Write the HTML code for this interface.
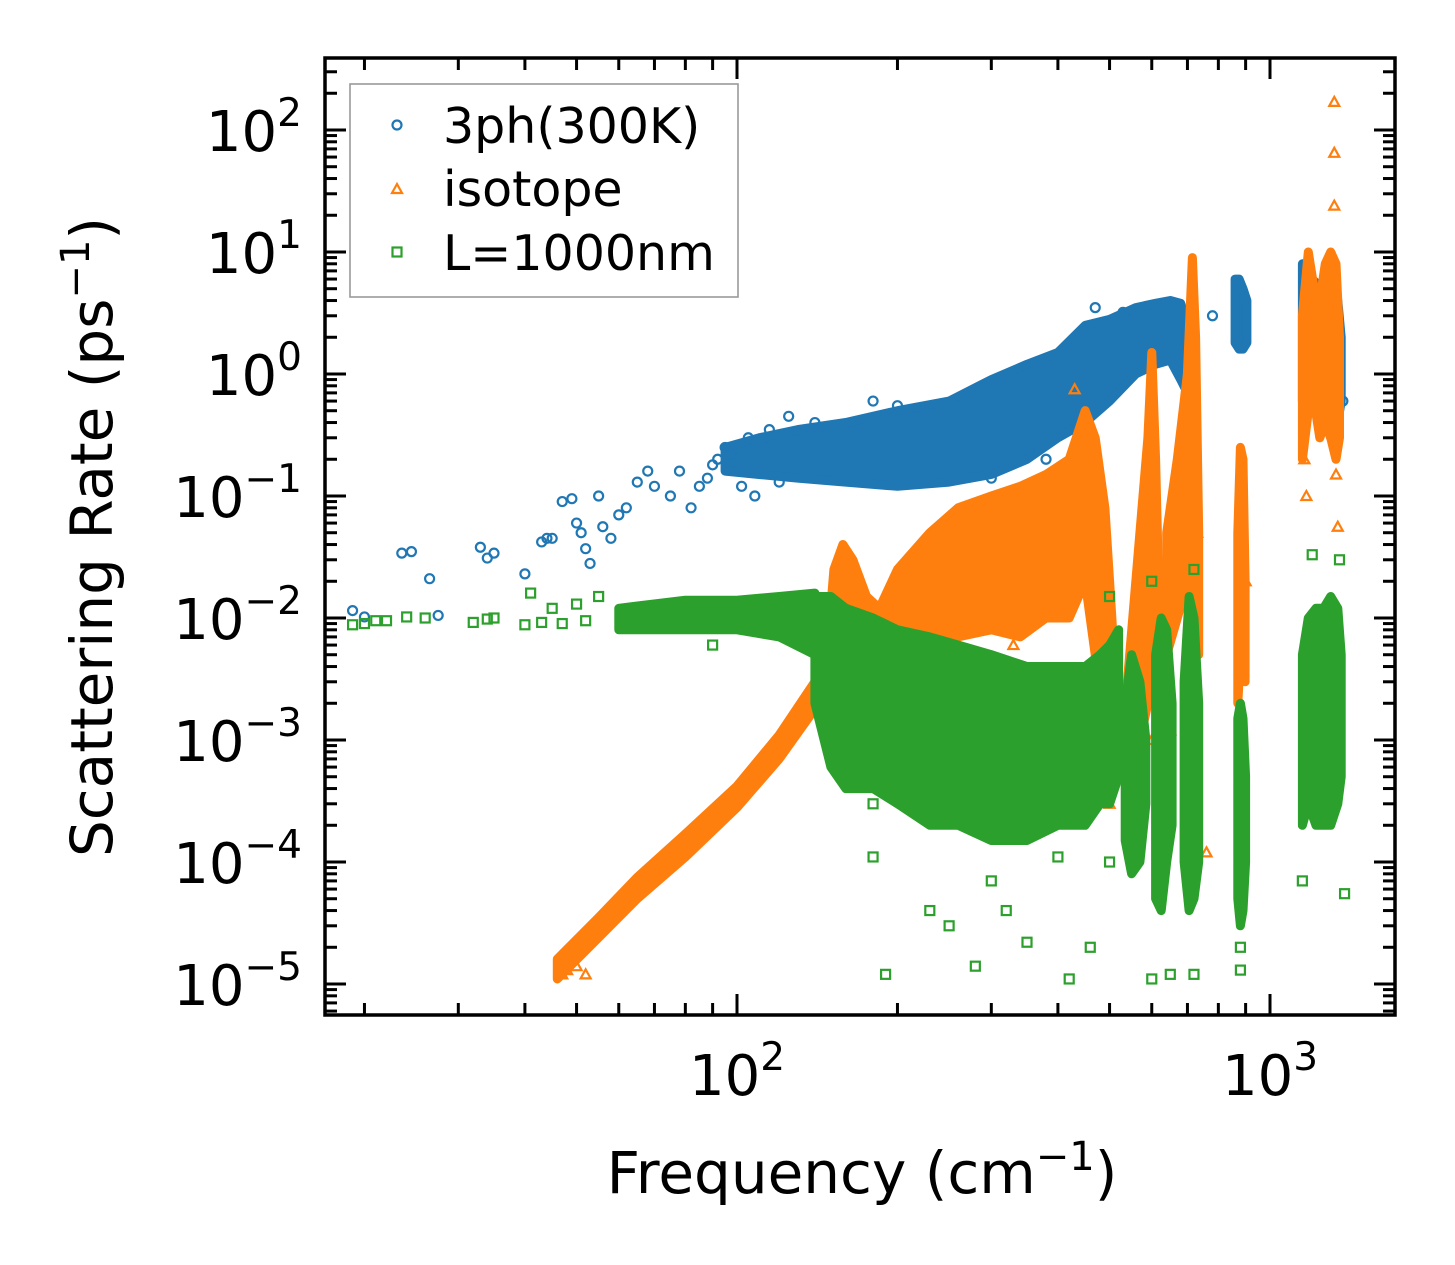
<!DOCTYPE html>
<html><head><meta charset="utf-8">
<style>
html,body{margin:0;padding:0;background:#fff;}
svg{display:block;font-family:"DejaVu Sans","Liberation Sans",sans-serif;}
</style></head>
<body>
<svg id="chart" width="1455" height="1265" viewBox="0 0 1455 1265" xmlns="http://www.w3.org/2000/svg">
<rect width="1455" height="1265" fill="#fff"/>
<g id="marks"></g>
<g id="axes"></g>
<text x="862" y="1193" font-size="58" text-anchor="middle">Frequency (cm<tspan dy="-23" font-size="40">−1</tspan><tspan dy="23">)</tspan></text>
<text transform="translate(112,537) rotate(-90)" font-size="58" text-anchor="middle">Scattering Rate (ps<tspan dy="-23" font-size="40">−1</tspan><tspan dy="23">)</tspan></text>
<g>
<rect x="350" y="84" width="388" height="213" fill="#fff" fill-opacity="0.8" stroke="#999" stroke-width="1.6"/>
<circle cx="397" cy="125" r="4.5" fill="none" stroke="#1f77b4" stroke-width="2.2"/>
<text x="443" y="143" font-size="49">3ph(300K)</text>
<path d="M397,184 L402,193 L392,193 Z" fill="none" stroke="#ff7f0e" stroke-width="2.2"/>
<text x="443" y="206" font-size="49">isotope</text>
<rect x="392.5" y="247.5" width="9" height="9" fill="none" stroke="#2ca02c" stroke-width="2.2"/>
<text x="443" y="270" font-size="49">L=1000nm</text>
</g>
</svg>
<script>
// ---- axis ranges ----
const xDomainLog = [1.227, 3.2345];
const yDomainLog = [-5.254, 2.59];
const xTickLabels = ["2","3"];
const xTickValues = [100, 1000];
const yTickValues = [1e-5,1e-4,1e-3,1e-2,1e-1,1,10,100];
const yTickExps = ["−5","−4","−3","−2","−1","0","1","2"];

// ---- 3ph (blue) dense band ----
const blueBand1F = [95,110,130,160,200,250,300,350,400,450,500,560,610,650,680,700];
const blueBand1Lo = [0.16,0.15,0.14,0.13,0.12,0.13,0.15,0.2,0.3,0.4,0.6,1.0,1.2,1.3,0.9,0.7];
const blueBand1Hi = [0.25,0.3,0.35,0.4,0.5,0.6,0.9,1.2,1.5,2.5,2.8,3.5,3.8,4.0,3.8,2.5];
const blueBand2F = [860,875,890,905];
const blueBand2Lo = [1.8,1.6,1.6,1.8];
const blueBand2Hi = [6,6,5,4];
const blueBand3F = [1150,1200,1250,1300,1340,1360];
const blueBand3Lo = [0.6,0.8,0.5,0.3,0.4,0.6];
const blueBand3Hi = [8,6,5,7,4,2];
const blueF = [19,20,23.5,24.5,26.5,27.5,33,34,35,40,43,44,45,47,49,50,51,52,53,55,56,58,60,62,65,68,70,75,78,82,88,95,105,115,125,140,180,200,300,380,470,530,780,1370,430,85,90,92,98,102,108,112,120];
const blueR = [0.0115,0.0102,0.034,0.035,0.021,0.0105,0.038,0.031,0.034,0.023,0.042,0.045,0.045,0.09,0.095,0.06,0.05,0.037,0.028,0.1,0.056,0.045,0.07,0.08,0.13,0.16,0.12,0.1,0.16,0.08,0.14,0.25,0.3,0.35,0.45,0.4,0.6,0.55,0.14,0.2,3.5,3.2,3.0,0.6,0.7,0.12,0.18,0.2,0.22,0.12,0.1,0.25,0.13];

// ---- isotope (orange) ----
const orBand1F = [46,55,65,80,100,120,140,148,152,158,165,175,185,200,230,260,300,340,380,420,450,470,490,500,510];
const orBand1Lo = [1.1e-5,2.4e-5,5e-5,1.1e-4,2.8e-4,7e-4,1.8e-3,4e-3,0.01,0.012,0.01,0.009,0.008,0.007,0.006,0.007,0.008,0.007,0.01,0.01,0.02,0.005,0.002,0.001,0.001];
const orBand1Hi = [1.6e-5,3.5e-5,7.5e-5,1.7e-4,4.2e-4,1.1e-3,3e-3,0.006,0.025,0.04,0.03,0.015,0.012,0.025,0.05,0.08,0.1,0.12,0.15,0.2,0.5,0.3,0.08,0.02,0.005];
const orBand2F = [540,570,590,600,610,620];
const orBand2Lo = [1e-3,1e-3,2e-3,3e-3,3e-3,2e-3];
const orBand2Hi = [0.003,0.05,0.3,1.5,0.2,0.01];
const orBand3F = [640,670,700,715,725,735];
const orBand3Lo = [0.005,0.01,0.02,0.02,0.01,0.005];
const orBand3Hi = [0.05,0.2,1,9,2,0.05];
const orBand4F = [870,880,890,898];
const orBand4Lo = [0.002,0.005,0.005,0.003];
const orBand4Hi = [0.05,0.25,0.2,0.02];
const orBand5F = [1150,1180,1210,1240,1270,1300,1330,1350];
const orBand5Lo = [0.2,0.5,0.6,0.3,0.4,0.3,0.2,0.3];
const orBand5Hi = [3,10,5,4,8,10,8,2];
const orF = [1320,1320,1320,1340,1330,1160,1170,880,890,760,650,500,430,720,730,600,320,330,900,47,48,50,52];
const orR = [170,65,24,0.056,0.15,0.2,0.1,0.0005,0.0002,1.2e-4,1.2e-3,3e-4,0.75,0.1,0.05,0.001,0.008,0.006,0.02,1.2e-5,1.3e-5,1.4e-5,1.2e-5];

// ---- boundary L=1000nm (green) ----
const grBand0F = [60,80,100,120,140];
const grBand0Lo = [0.008,0.008,0.008,0.007,0.005];
const grBand0Hi = [0.012,0.014,0.014,0.015,0.016];
const grBand1F = [140,150,160,180,200,230,260,300,350,400,450,480,500,520];
const grBand1Lo = [2e-3,6e-4,4e-4,4e-4,3e-4,2e-4,2e-4,1.5e-4,1.5e-4,2e-4,2e-4,3e-4,3e-4,5e-4];
const grBand1Hi = [0.015,0.015,0.012,0.01,0.008,0.007,0.006,0.005,0.004,0.004,0.004,0.005,0.006,0.008];
const grBand2F = [535,550,570,585];
const grBand2Lo = [1.5e-4,8e-5,1e-4,3e-4];
const grBand2Hi = [2e-3,5e-3,3e-3,1e-3];
const grBand3F = [610,625,640,655];
const grBand3Lo = [5e-5,4e-5,1e-4,2e-4];
const grBand3Hi = [0.005,0.01,0.008,0.002];
const grBand4F = [690,705,720,735];
const grBand4Lo = [1e-4,4e-5,5e-5,1e-4];
const grBand4Hi = [0.003,0.015,0.01,0.002];
const grBand5F = [870,880,890,900];
const grBand5Lo = [5e-5,3e-5,4e-5,1e-4];
const grBand5Hi = [1.5e-3,2e-3,1.5e-3,5e-4];
const grBand6F = [1150,1180,1220,1260,1300,1340,1360];
const grBand6Lo = [2e-4,3e-4,2e-4,2e-4,2e-4,3e-4,5e-4];
const grBand6Hi = [0.005,0.01,0.012,0.012,0.015,0.012,0.005];
const grF = [19,20,21,22,24,26,32,34,35,40,41,43,45,47,50,52,55,90,180,190,230,250,280,300,320,350,400,420,460,400,500,560,600,650,720,880,880,1150,1380,1200,1350,230,260,180,200,500,600,720];
const grR = [0.0088,0.009,0.0095,0.0095,0.0102,0.01,0.0092,0.0098,0.01,0.0088,0.016,0.0092,0.012,0.009,0.013,0.0095,0.015,0.006,1.1e-4,1.2e-5,4e-5,3e-5,1.4e-5,7e-5,4e-5,2.2e-5,1.1e-4,1.1e-5,2e-5,3e-4,1e-4,5e-4,1.1e-5,1.2e-5,1.2e-5,1.3e-5,2e-5,7e-5,5.5e-5,0.033,0.03,1e-3,8e-4,3e-4,5e-4,0.015,0.02,0.025];

// ---- scales ----
const PX0 = 325, PX1 = 1395, PY0 = 1015, PY1 = 58;
function xs(f){ return PX0 + (Math.log10(f) - xDomainLog[0]) / (xDomainLog[1]-xDomainLog[0]) * (PX1-PX0); }
function ys(r){ return PY0 - (Math.log10(r) - yDomainLog[0]) / (yDomainLog[1]-yDomainLog[0]) * (PY0-PY1); }

const NS = "http://www.w3.org/2000/svg";
const marks = document.getElementById('marks');
const axes = document.getElementById('axes');

function band(F, Lo, Hi, color, name){
  let pts = [];
  for (let i=0;i<F.length;i++) pts.push(xs(F[i]).toFixed(1)+','+ys(Hi[i]).toFixed(1));
  for (let i=F.length-1;i>=0;i--) pts.push(xs(F[i]).toFixed(1)+','+ys(Lo[i]).toFixed(1));
  const p = document.createElementNS(NS,'polygon');
  p.setAttribute('points', pts.join(' '));
  p.setAttribute('fill', color);
  p.setAttribute('stroke', color);
  p.setAttribute('stroke-width', '9');
  p.setAttribute('stroke-linejoin', 'round');
  
  
  marks.appendChild(p);
}
function points(F, R, color, shape, name){
  for (let i=0;i<F.length;i++){
    const x = xs(F[i]), y = ys(R[i]);
    let el;
    if (shape==='circle'){
      el = document.createElementNS(NS,'circle');
      el.setAttribute('cx',x); el.setAttribute('cy',y); el.setAttribute('r',4.5);
    } else if (shape==='tri'){
      el = document.createElementNS(NS,'path');
      el.setAttribute('d',`M${x},${y-5} L${x+5},${y+4} L${x-5},${y+4} Z`);
    } else {
      el = document.createElementNS(NS,'rect');
      el.setAttribute('x',x-4.5); el.setAttribute('y',y-4.5); el.setAttribute('width',9); el.setAttribute('height',9);
    }
    el.setAttribute('fill','none');
    el.setAttribute('stroke',color);
    el.setAttribute('stroke-width','2.2');
    
    
    marks.appendChild(el);
  }
}
const B='#1f77b4', O='#ff7f0e', G='#2ca02c';
band(blueBand1F,blueBand1Lo,blueBand1Hi,B,'3ph-dense-band');
band(blueBand2F,blueBand2Lo,blueBand2Hi,B,'3ph-dense-band');
band(blueBand3F,blueBand3Lo,blueBand3Hi,B,'3ph-dense-band');
points(blueF,blueR,B,'circle','3ph-point');
band(orBand1F,orBand1Lo,orBand1Hi,O,'isotope-dense-band');
band(orBand2F,orBand2Lo,orBand2Hi,O,'isotope-dense-band');
band(orBand3F,orBand3Lo,orBand3Hi,O,'isotope-dense-band');
band(orBand4F,orBand4Lo,orBand4Hi,O,'isotope-dense-band');
band(orBand5F,orBand5Lo,orBand5Hi,O,'isotope-dense-band');
points(orF,orR,O,'tri','isotope-point');
band(grBand0F,grBand0Lo,grBand0Hi,G,'boundary-dense-band');
band(grBand1F,grBand1Lo,grBand1Hi,G,'boundary-dense-band');
band(grBand2F,grBand2Lo,grBand2Hi,G,'boundary-dense-band');
band(grBand3F,grBand3Lo,grBand3Hi,G,'boundary-dense-band');
band(grBand4F,grBand4Lo,grBand4Hi,G,'boundary-dense-band');
band(grBand5F,grBand5Lo,grBand5Hi,G,'boundary-dense-band');
band(grBand6F,grBand6Lo,grBand6Hi,G,'boundary-dense-band');
points(grF,grR,G,'square','boundary-point');

// ---- axes frame and ticks ----
function line(x1,y1,x2,y2,w,name){
  const l=document.createElementNS(NS,'line');
  l.setAttribute('x1',x1);l.setAttribute('y1',y1);l.setAttribute('x2',x2);l.setAttribute('y2',y2);
  l.setAttribute('stroke','#000');l.setAttribute('stroke-width',w);
  
  
  axes.appendChild(l);
}
const fr=document.createElementNS(NS,'rect');
fr.setAttribute('x',PX0);fr.setAttribute('y',PY1);fr.setAttribute('width',PX1-PX0);fr.setAttribute('height',PY0-PY1);
fr.setAttribute('fill','none');fr.setAttribute('stroke','#000');fr.setAttribute('stroke-width','3.5');


axes.appendChild(fr);
// x ticks
for (let d=1; d<=3; d++){
  for (let m=1; m<=9; m++){
    const v = m*Math.pow(10,d);
    const x = xs(v);
    if (x<PX0+1 || x>PX1-1) continue;
    const len = m===1?21:12;
    line(x,PY0,x,PY0-len,3,m===1?'x-major-tick':'x-minor-tick');
    line(x,PY1,x,PY1+len,3,m===1?'x-major-tick-top':'x-minor-tick-top');
  }
}
xTickValues.forEach((v,i)=>{
  const t=document.createElementNS(NS,'text');
  t.setAttribute('x',xs(v)); t.setAttribute('y',1095); t.setAttribute('font-size','56'); t.setAttribute('text-anchor','middle');
  t.innerHTML='10<tspan dy="-25" font-size="39">'+xTickLabels[i]+'</tspan>';
  
  
  axes.appendChild(t);
});
// y ticks
for (let d=-6; d<=2; d++){
  for (let m=1; m<=9; m++){
    const v = m*Math.pow(10,d);
    const y = ys(v);
    if (y>PY0-1 || y<PY1+1) continue;
    const len = m===1?21:12;
    line(PX0,y,PX0+len,y,3,m===1?'y-major-tick':'y-minor-tick');
    line(PX1,y,PX1-len,y,3,m===1?'y-major-tick-right':'y-minor-tick-right');
  }
}
yTickValues.forEach((v,i)=>{
  const t=document.createElementNS(NS,'text');
  t.setAttribute('x',302); t.setAttribute('y',ys(v)+21); t.setAttribute('font-size','56'); t.setAttribute('text-anchor','end');
  t.innerHTML='10<tspan dy="-25" font-size="39">'+yTickExps[i]+'</tspan>';
  
  
  axes.appendChild(t);
});
</script>
</body></html>
